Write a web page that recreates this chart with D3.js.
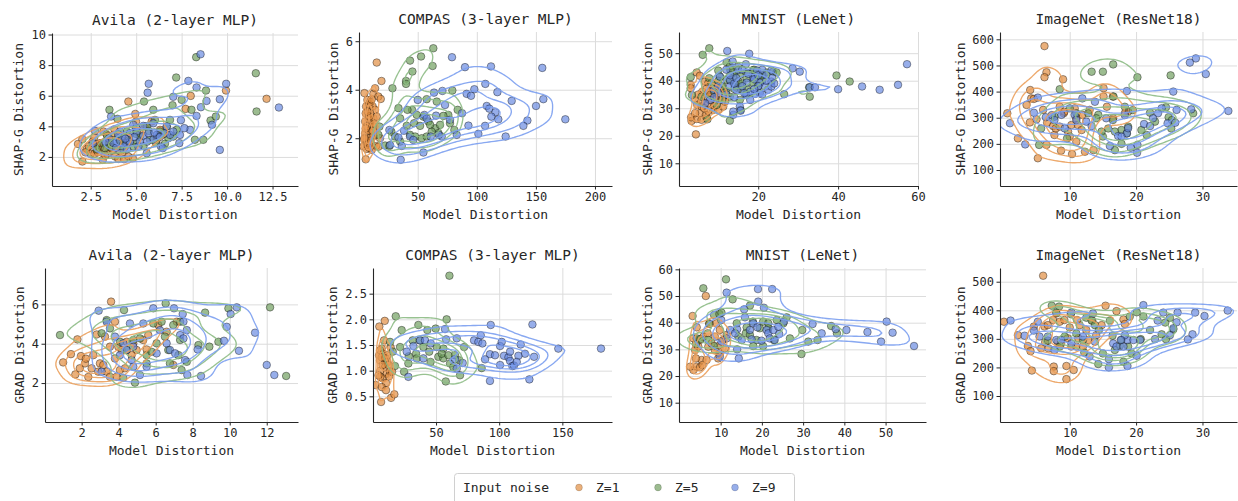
<!DOCTYPE html>
<html><head><meta charset="utf-8">
<script src="https://cdn.jsdelivr.net/npm/d3@7"></script>
<style>
body{margin:0;background:#fff}
svg{display:block}
text{font-family:"DejaVu Sans Mono",monospace;fill:#262626}
</style>
</head><body>
<svg id="chart" width="1238" height="501"></svg>
<script>
// ---------------- DATA ----------------
const seriesLabels = ["Z=1", "Z=5", "Z=9"];
const legendTitle = "Input noise";
const xAxisLabel = "Model Distortion";

// Avila (2-layer MLP), SHAP-G
const avilaShapZ1 = [[1.8,2.85],[2.04,3.16],[2.04,1.7],[2.28,2.53],[2.5,2.2],[2.7,2.2],[2.88,2.83],[3.16,1.81],[3.25,2.53],[3.42,2.2],[3.56,3.12],[3.71,2.42],[3.84,2.03],[3.97,2.68],[4.02,1.87],[4.24,2.18],[4.33,1.85],[4.57,2.03],[4.81,1.92],[3.2,3.66],[3.38,3.46],[4.57,5.62],[3.75,3.44],[4.95,4.81],[4.99,4.31],[5.21,3.55],[5.85,4.31],[6.13,3.12],[6.31,3.77],[6.4,3.44],[7.72,5.14],[8.0,5.99],[9.94,6.34],[12.17,5.8],[3.01,2.9],[2.83,2.46],[2.6,3.0],[3.0,2.6],[3.5,2.9],[4.2,3.1],[4.6,3.3],[3.8,3.8],[5.5,4.0],[2.2,2.3],[3.3,2.1],[2.4,2.7],[2.9,2.3],[3.1,2.9],[3.6,2.6],[4.1,2.4],[4.4,2.7],[2.7,3.3],[3.9,3.0]];
const avilaShapZ5 = [[8.3,8.52],[11.58,7.47],[7.2,7.19],[11.62,4.97],[5.43,5.62],[5.94,5.08],[7.5,5.73],[7.0,5.38],[8.04,5.08],[8.84,6.34],[9.09,4.38],[9.38,4.64],[8.69,3.12],[3.53,5.08],[3.97,4.49],[2.83,2.51],[3.56,2.68],[3.84,2.9],[4.29,2.79],[4.48,3.66],[5.03,2.9],[5.21,3.33],[5.58,3.99],[5.76,3.12],[6.31,3.66],[6.68,3.99],[6.77,3.22],[7.23,3.77],[7.04,3.33],[6.09,2.9],[6.58,2.86],[3.2,2.9],[3.29,2.57],[4.84,2.68],[6.03,4.42],[6.86,4.42],[4.02,3.33],[8.23,3.12],[3.7,3.1],[4.1,3.0],[4.6,3.1],[5.0,3.5],[5.4,2.7],[6.2,3.3],[6.5,3.5],[3.4,3.4],[4.3,2.5],[5.7,3.7]];
const avilaShapZ9 = [[8.54,8.71],[5.69,6.78],[5.63,6.2],[7.87,6.97],[7.04,5.93],[8.32,6.54],[9.95,6.78],[8.87,5.66],[9.6,5.77],[8.56,5.25],[12.85,5.23],[8.32,4.68],[7.46,4.4],[9.17,4.1],[7.96,3.77],[9.6,2.46],[3.62,4.64],[2.74,3.7],[2.61,2.9],[4.11,3.66],[4.66,3.55],[5.03,3.66],[5.39,3.38],[5.67,3.55],[5.94,3.12],[6.13,3.44],[6.36,2.68],[6.58,3.55],[6.86,3.44],[7.04,3.66],[7.41,3.44],[7.65,3.88],[5.58,2.24],[5.12,2.68],[4.48,2.9],[3.93,3.0],[4.29,2.68],[6.46,2.57],[6.68,3.99],[5.94,4.2],[4.84,4.1],[4.2,3.33],[3.75,2.9],[5.39,4.03],[7.37,2.9],[4.66,3.0],[3.5,3.2],[4.0,3.5],[4.4,3.2],[4.9,3.3],[5.2,3.0],[5.6,3.0],[6.0,3.6],[6.3,3.3],[4.5,2.5],[5.0,3.9],[3.3,3.0],[3.9,2.6]];

// COMPAS (3-layer MLP), SHAP-G
const compasShapZ1 = [[15.3,5.12],[19.3,4.36],[4.9,3.86],[12.5,3.83],[16.7,3.72],[18.7,3.62],[6.3,3.31],[5.98,3.03],[8.3,2.82],[10.5,2.69],[12.5,2.82],[9.2,2.48],[11.1,2.27],[5.5,2.2],[13.9,2.14],[8.3,2.0],[6.3,1.86],[10.2,1.79],[4.0,1.66],[6.9,1.56],[11.1,1.52],[6.0,1.13],[14.8,1.68],[9.1,3.38],[11.9,3.31],[7.4,3.58],[13.9,3.17],[9.7,3.03],[8.6,2.31],[13.1,2.48],[4.6,1.96],[15.3,2.89],[11.9,2.07],[7.4,1.72],[13.9,4.06],[5.5,2.69],[16.7,1.65],[18.1,2.0],[7,2.5],[9,2.9],[10,3.5],[6,2.4],[8,1.8],[12,2.3],[10,1.9],[7.5,3.1],[5,2.0],[13,2.6],[9,1.6],[11,3.6]];
const compasShapZ5 = [[63.2,5.71],[52.8,5.37],[43.5,5.2],[62.6,4.98],[45.5,4.75],[40.1,4.36],[40.1,4.24],[28.6,4.06],[79.3,3.97],[57.6,3.61],[66.1,3.51],[45.2,3.17],[41.3,3.17],[33.7,3.24],[83.8,3.17],[75.9,2.96],[71.7,2.92],[77.3,2.62],[81.0,2.34],[35.1,2.82],[40.7,2.51],[49.2,2.96],[54.8,2.89],[59.0,2.69],[64.7,2.41],[67.5,2.21],[43.5,2.14],[47.8,2.07],[53.4,2.0],[57.6,2.07],[35.1,1.86],[22.4,1.7],[26.0,1.68],[16.7,2.14],[17.6,2.48],[46.9,2.62],[52.0,2.51],[60.5,2.55],[68.9,2.55],[27.7,2.27],[30.8,2.07],[61.8,2.27]];
const compasShapZ9 = [[79.0,5.34],[90.0,4.93],[112.0,4.96],[155.4,4.9],[107.2,4.24],[97.9,4.02],[70.9,3.95],[91.4,3.83],[95.1,3.75],[117.4,3.9],[50.0,3.58],[129.5,3.54],[156.3,3.61],[150.1,3.33],[174.9,2.78],[142.8,2.73],[139.4,2.51],[124.4,2.07],[101.3,2.18],[92.9,2.52],[107.0,2.51],[108.4,3.33],[110.6,3.22],[115.7,3.07],[112.3,2.89],[118.2,2.78],[87.5,3.03],[83.0,2.14],[63.8,3.88],[73.1,3.37],[55.6,2.96],[57.6,2.82],[26.6,1.72],[35.6,1.11],[54.8,1.41],[36.5,1.68],[33.7,2.03],[26.0,2.34],[38.4,2.31],[43.5,2.07],[70.3,2.07],[65.5,2.93],[67.8,2.14],[61.0,2.07],[46.3,1.93],[77.3,2.76]];

// MNIST (LeNet), SHAP-G
const mnistShapZ1 = [[4.4,20.5],[3.3,25.4],[3.2,26.7],[4.6,26.1],[5.8,25.8],[7.1,26.4],[3.1,38.5],[3.1,37.3],[4.6,43.0],[5.4,41.8],[6.7,39.7],[7.5,39.1],[4.2,33.0],[4.75,31.2],[5.8,30.6],[7.5,31.8],[8.75,29.4],[10.0,29.4],[11.25,30.6],[7.9,34.2],[9.6,36.1],[10.4,37.3],[9.2,33.0],[6.7,34.2],[5.4,28.2],[6.9,27.6],[8.3,36.7],[10.4,33.0],[11.7,32.4],[5.8,32.4],[4.2,28.2],[11.7,35.5],[6,36],[7,37],[8,35],[9,31],[5,35],[6.5,30],[8,33],[10,35],[7.5,29],[9,38]];
const mnistShapZ5 = [[6.1,49.4],[7.75,51.8],[3.1,41.3],[3.4,34.8],[39.6,41.9],[42.9,39.7],[26.5,35.1],[32.9,34.2],[32.75,37.6],[12.1,46.7],[12.9,45.2],[10.0,43.7],[10.4,41.5],[7.75,40.9],[12.1,40.3],[13.75,41.5],[15.4,42.1],[17.1,40.9],[18.75,43.9],[20.25,41.8],[22.1,43.0],[23.75,43.3],[24.6,43.0],[14.2,37.9],[15.8,36.7],[17.25,36.9],[12.9,34.2],[15.6,29.4],[12.9,25.5],[7.3,26.0],[9.6,31.2],[8.3,39.1],[10.8,37.9],[15.0,39.7],[18.75,39.1],[15.4,33.0],[5.8,34.2],[9,36],[11,38],[13,40],[14,43],[16,39],[19,42],[21,40],[11,33],[13,44],[15,45],[17,43],[19,44],[21,42],[20,38],[17,35],[12,36],[10,40],[14,37]];
const mnistShapZ9 = [[12.25,50.8],[17.75,49.8],[13.6,47.0],[28.6,44.5],[30.4,43.3],[32.9,37.6],[34.2,37.6],[40.0,36.9],[46.0,37.9],[50.4,36.7],[55.0,38.5],[57.25,46.0],[16.9,46.0],[19.75,43.7],[23.3,43.7],[23.3,39.7],[21.7,37.9],[22.5,36.7],[20.4,35.5],[19.2,35.2],[18.75,41.3],[17.1,39.3],[15.0,43.9],[12.9,40.3],[12.9,37.9],[15.4,30.6],[15.6,29.1],[13.75,27.6],[13.75,28.8],[10.4,41.5],[8.9,36.7],[10.0,35.5],[7.9,33.0],[6.7,31.8],[14.6,36.7],[17.1,34.8],[20.4,39.3],[23.3,37.9],[10,38],[12,35],[14,39],[16,38],[18,36],[20,38],[22,40],[9,34],[13,42],[14.5,41],[16,44],[17.5,42.5],[19,40.5],[20,42],[21,44],[22,42],[23.5,41],[24,39],[19,37],[16.5,35.5],[18,33],[21,35],[14,34],[12,44]];

// ImageNet (ResNet18), SHAP-G
const imagenetShapZ1 = [[6.2,574],[6.5,474],[6.2,455],[9.0,447],[0.6,317],[4.05,406],[4.2,374],[4.6,372],[3.5,349],[4.0,282],[5.0,294],[6.0,330],[6.6,281],[7.5,268],[7.7,234],[7.9,259],[8.5,342],[9.1,317],[9.75,247],[10.0,228],[11.0,208],[8.7,174],[10.35,161],[12.3,170],[13.6,176],[5.2,145],[6.5,196],[2.2,221],[15.1,413],[15.1,381],[15.6,342],[13.0,330],[11.9,311],[11.0,298],[10.25,272],[11.25,272],[11.8,253],[16.5,381],[18.8,323],[16.55,298],[18.3,317],[9.2,323],[8.5,266],[10.75,336]];
const imagenetShapZ5 = [[16.55,504],[15.0,476],[13.3,476],[20.2,455],[25.2,462],[8.5,409],[16.6,381],[10.0,336],[11.0,317],[7.7,304],[5.7,259],[5.4,196],[9.6,221],[12.8,317],[14.3,311],[16.5,291],[18.3,342],[19.5,329],[18.8,266],[17.8,253],[16.8,247],[16.8,176],[17.8,200],[15.0,228],[14.8,247],[14.0,298],[20.8,253],[21.6,234],[22.85,285],[24.9,302],[24.5,340],[25.3,259],[28.6,317],[25.4,291],[22.1,319],[18.6,240],[15.8,259]];
const imagenetShapZ9 = [[29.0,527],[28.1,511],[30.5,467],[33.9,326],[1.0,279],[3.3,198],[5.2,377],[4.6,319],[6.4,302],[7.3,310],[11.9,374],[13.8,361],[18.6,402],[25.6,400],[26.1,330],[28.3,332],[23.85,336],[23.3,317],[22.55,298],[21.2,276],[22.1,268],[20.2,196],[19.2,185],[20.15,166],[17.3,230],[16.05,192],[18.3,310],[18.6,240],[17.8,228],[18.8,260],[12.5,285],[13.3,268],[10.75,311],[11.0,291],[8.75,311],[7.7,291],[9.25,259],[24.75,279],[25.9,281],[15.5,298]];

// Avila (2-layer MLP), GRAD
const avilaGradZ1 = [[3.59,6.14],[1.77,4.22],[1.42,3.47],[1.0,3.05],[1.66,2.44],[1.9,2.75],[2.18,3.0],[2.36,2.31],[2.54,2.75],[1.96,3.37],[2.23,3.24],[2.63,3.42],[2.81,4.47],[2.99,3.0],[3.17,2.92],[3.35,2.58],[3.53,2.32],[3.89,2.32],[4.07,2.66],[4.34,2.75],[3.53,3.85],[3.8,3.25],[3.98,3.85],[4.43,4.1],[4.79,4.02],[4.97,3.68],[5.33,4.19],[5.6,4.44],[6.14,4.95],[6.59,4.61],[7.14,5.12],[6.95,2.92],[3.8,5.12],[2.9,2.58],[3.26,4.36],[4.16,3.68],[4.7,3.42],[5.51,3.71]];
const avilaGradZ5 = [[0.83,4.44],[4.29,5.71],[6.54,6.05],[9.93,5.8],[12.18,5.85],[13.05,2.36],[4.88,2.02],[4.25,2.27],[3.35,5.2],[3.53,4.78],[3.08,4.53],[8.67,5.58],[8.9,3.85],[9.39,4.1],[8.31,3.93],[7.4,2.66],[5.87,5.03],[6.32,5.12],[6.95,4.95],[7.32,5.12],[6.5,4.36],[6.05,4.02],[6.68,3.68],[5.51,3.42],[5.78,3.59],[6.77,3.0],[7.32,4.19],[5.15,4.27],[4.79,4.19],[4.07,4.1],[4.43,3.68],[7.23,3.42],[5.51,3.0],[7.68,3.08]];
const avilaGradZ9 = [[2.92,5.68],[5.87,5.8],[6.99,5.8],[10.38,5.85],[10.05,5.51],[9.84,4.86],[9.69,4.15],[11.37,4.56],[10.5,3.64],[12.0,2.92],[12.41,2.41],[7.71,2.41],[8.45,2.36],[8.27,3.71],[7.68,4.69],[7.5,5.12],[7.46,5.51],[5.33,5.03],[4.61,5.03],[3.35,5.12],[3.8,4.36],[4.25,4.02],[4.43,3.68],[4.07,3.42],[4.79,3.85],[4.7,3.17],[5.15,2.41],[5.51,2.83],[6.05,3.51],[6.59,4.02],[6.77,3.68],[7.32,4.44],[7.5,4.27],[3.08,2.58],[4.79,2.83],[6.23,4.69],[7.05,3.51],[7.59,3.17]];

// COMPAS (3-layer MLP), GRAD
const compasGradZ1 = [[9.4,1.97],[5.1,1.86],[6.5,0.39],[2.2,0.72],[14.4,0.47],[17.0,0.54],[7.0,1.43],[8.3,1.33],[4.9,1.3],[11.5,1.17],[9.6,1.07],[5.9,1.0],[11.0,0.94],[7.8,0.85],[10.4,0.76],[7.0,0.68],[14.1,1.45],[5.7,1.2],[8.8,1.59],[12.3,1.11],[5.9,0.88],[11.5,1.3],[5.7,1.4],[9.9,1.24],[13.6,0.98],[7.8,1.11],[4.4,0.91],[10.4,0.62],[7.0,1.26],[12.8,0.89],[15.2,0.98]];
const compasGradZ5 = [[60.6,2.85],[18.1,2.06],[58.4,2.0],[36.0,1.89],[49.7,1.82],[22.8,1.79],[13.6,1.56],[15.7,1.37],[17.5,1.09],[21.5,1.46],[24.7,0.98],[28.1,1.14],[31.5,1.59],[34.2,1.33],[34.7,1.24],[40.0,1.46],[44.6,1.37],[45.7,1.17],[51.8,1.27],[55.8,1.43],[55.8,1.24],[61.1,1.14],[65.0,1.3],[68.5,1.2],[69.0,0.91],[57.7,0.79],[72.2,1.46],[86.1,1.05],[43.1,1.79],[28.4,1.28],[37.3,1.59],[50.5,1.46],[54.5,1.33],[59.8,1.3],[63.7,1.07]];
const compasGradZ9 = [[57.1,1.81],[93.3,1.89],[126.3,1.9],[146.8,1.43],[180.6,1.43],[123.9,0.83],[92.7,0.8],[28.1,0.88],[58.0,1.61],[66.4,1.63],[80.1,1.59],[83.5,1.56],[85.4,1.69],[86.7,1.53],[100.7,1.48],[102.0,1.56],[117.0,1.51],[120.4,1.33],[127.6,1.27],[115.2,1.29],[92.7,1.32],[96.7,1.3],[100.7,1.11],[103.8,1.29],[107.3,1.26],[108.6,1.19],[110.4,1.09],[111.7,1.1],[113.9,1.17],[37.3,1.59],[41.3,1.59],[45.8,1.53],[26.8,1.37],[32.1,1.48],[40.0,1.24],[65.0,1.22],[71.1,1.15],[66.4,1.04],[88.8,1.22],[108.6,1.37]];

// MNIST (LeNet), GRAD
const mnistGradZ1 = [[3.2,42.5],[6.4,50.0],[4.2,38.25],[3.4,22.25],[4.2,23.5],[5.0,23.25],[5.4,26.0],[6.6,26.0],[3.8,29.75],[3.4,34.1],[5.0,33.5],[5.8,34.75],[6.85,36.0],[7.25,39.75],[9.0,39.75],[7.0,31.0],[8.6,29.75],[9.4,26.6],[9.8,28.5],[10.6,33.5],[11.45,35.4],[9.8,37.25],[8.6,34.75],[7.8,32.25],[4.6,31.0],[5.6,24.1],[4.0,26.6],[2.6,23.5],[9.8,31.6],[11.05,30.4]];
const mnistGradZ5 = [[5.8,52.9],[11.3,56.25],[12.9,48.75],[17.1,46.4],[7.25,39.5],[8.4,42.9],[9.7,43.25],[10.2,43.75],[8.4,31.25],[7.0,33.5],[4.2,34.1],[4.0,32.0],[5.15,33.9],[13.9,39.75],[16.3,38.25],[16.1,36.0],[17.8,40.4],[20.3,40.4],[21.55,39.75],[23.6,41.0],[26.0,42.0],[25.2,39.75],[21.55,37.9],[19.5,37.9],[18.7,33.5],[17.9,31.25],[20.3,31.25],[22.9,33.5],[26.8,34.1],[29.8,37.25],[29.6,28.25],[31.25,32.9],[33.5,33.5],[36.8,38.75],[38.2,36.0],[14.3,34.75],[17.1,35.4]];
const mnistGradZ9 = [[11.45,51.25],[19.05,52.6],[22.5,52.6],[19.1,47.9],[20.5,45.6],[15.7,45.0],[10.15,41.0],[14.4,26.6],[14.0,30.0],[9.8,27.25],[32.3,39.5],[34.5,36.0],[37.9,37.6],[40.5,37.25],[45.6,36.5],[48.9,32.9],[50.25,40.4],[51.7,36.25],[56.9,31.25],[14.0,37.5],[15.9,42.0],[17.1,37.25],[17.9,39.75],[18.9,38.25],[21.15,37.25],[21.55,36.0],[22.8,37.25],[24.2,35.75],[24.0,38.5],[25.35,40.4],[19.9,33.25],[21.9,34.1],[23.1,33.5],[17.5,33.75],[15.1,33.5],[12.3,37.25],[11.45,34.1],[10.2,32.9],[13.5,36.0]];

// ImageNet (ResNet18), GRAD
const imagenetGradZ1 = [[6.0,521],[0.1,360],[2.2,313],[3.7,275],[4.1,257],[4.3,189],[4.6,343],[6.2,343],[6.7,348],[7.5,366],[8.0,389],[8.5,360],[9.2,366],[7.6,203],[7.6,187],[9.5,205],[9.5,159],[10.6,191],[6.8,267],[8.2,290],[8.7,284],[9.7,302],[10.25,273],[11.0,273],[11.3,302],[12.0,273],[12.8,296],[12.5,331],[11.5,348],[11.1,366],[13.4,364],[15.4,416],[17.05,397],[18.1,368],[18.3,352],[14.8,348],[14.0,313],[6.3,288],[5.7,267],[10.0,340]];
const imagenetGradZ5 = [[7.3,416],[8.4,413],[7.98,392],[10.15,387],[12.5,374],[13.3,364],[13.8,348],[14.4,331],[16.05,364],[16.45,311],[17.55,276],[18.8,273],[19.05,378],[20.1,393],[21.1,378],[22.1,331],[23.85,316],[24.4,357],[25.1,374],[25.6,333],[24.5,299],[20.7,299],[19.3,249],[18.1,220],[15.0,249],[14.3,212],[12.2,252],[11.0,319],[9.25,308],[6.7,294],[8.5,273],[16.8,261],[17.8,296],[12.0,296]];
const imagenetGradZ9 = [[33.8,399],[30.3,380],[28.9,392],[28.5,316],[27.8,298],[26.1,358],[26.25,392],[24.1,392],[23.25,364],[22.85,299],[21.1,418],[20.1,241],[18.7,205],[15.9,200],[15.9,229],[1.1,364],[3.2,311],[5.2,360],[4.6,329],[5.45,308],[6.7,308],[7.7,261],[7.98,296],[10.25,392],[12.0,308],[13.5,389],[13.8,290],[13.0,238],[16.55,284],[17.05,273],[18.1,273],[18.7,296],[19.6,296],[20.6,296],[18.3,313],[25.1,313],[25.6,337],[17.7,296],[10.25,284],[8.7,296]];

// Tick values
const avilaShapXTicks = [2.5, 5, 7.5, 10, 12.5];
const avilaShapYTicks = [2, 4, 6, 8, 10];
const compasShapXTicks = [50, 100, 150, 200];
const compasShapYTicks = [2, 4, 6];
const mnistShapXTicks = [20, 40, 60];
const mnistShapYTicks = [10, 20, 30, 40, 50];
const imagenetShapXTicks = [10, 20, 30];
const imagenetShapYTicks = [100, 200, 300, 400, 500, 600];
const avilaGradXTicks = [2, 4, 6, 8, 10, 12];
const avilaGradYTicks = [2, 4, 6];
const compasGradXTicks = [50, 100, 150];
const compasGradYTicks = [0.5, 1.0, 1.5, 2.0, 2.5];
const mnistGradXTicks = [10, 20, 30, 40, 50];
const mnistGradYTicks = [10, 20, 30, 40, 50, 60];
const imagenetGradXTicks = [10, 20, 30];
const imagenetGradYTicks = [100, 200, 300, 400, 500];

// ---------------- LAYOUT / STYLE ----------------
const W = 1238, H = 501;
const pointFill = ["#e08a3c", "#6d9c5c", "#6688e0"];
const lineColor = ["#eba05c", "#8dbb85", "#7b9ff0"];

const panels = [
  {title:"Avila (2-layer MLP)", ylabel:"SHAP-G Distortion", data:[avilaShapZ1,avilaShapZ5,avilaShapZ9],
   xdom:[0.37,13.9], ydom:[0.1,10.1], xt:avilaShapXTicks, yt:avilaShapYTicks, xf:".1f", yf:"d", box:[52,298,33,186], ylx:18},
  {title:"COMPAS (3-layer MLP)", ylabel:"SHAP-G Distortion", data:[compasShapZ1,compasShapZ5,compasShapZ9],
   xdom:[0.3,214.4], ydom:[0.03,6.38], xt:compasShapXTicks, yt:compasShapYTicks, xf:"d", yf:"d", box:[359,612,32,186], ylx:333},
  {title:"MNIST (LeNet)", ylabel:"SHAP-G Distortion", data:[mnistShapZ1,mnistShapZ5,mnistShapZ9],
   xdom:[0.17,60], ydom:[1.75,57.7], xt:mnistShapXTicks, yt:mnistShapYTicks, xf:"d", yf:"d", box:[679,918,32,186], ylx:647},
  {title:"ImageNet (ResNet18)", ylabel:"SHAP-G Distortion", data:[imagenetShapZ1,imagenetShapZ5,imagenetShapZ9],
   xdom:[-0.5,35.2], ydom:[38.8,628], xt:imagenetShapXTicks, yt:imagenetShapYTicks, xf:"d", yf:"d", box:[1000,1237,32,186], ylx:960},
  {title:"Avila (2-layer MLP)", ylabel:"GRAD Distortion", data:[avilaGradZ1,avilaGradZ5,avilaGradZ9],
   xdom:[0.02,13.69], ydom:[0.02,7.85], xt:avilaGradXTicks, yt:avilaGradYTicks, xf:"d", yf:"d", box:[45,298,268,422], ylx:19},
  {title:"COMPAS (3-layer MLP)", ylabel:"GRAD Distortion", data:[compasGradZ1,compasGradZ5,compasGradZ9],
   xdom:[0.1,189.3], ydom:[0,3.0], xt:compasGradXTicks, yt:compasGradYTicks, xf:"d", yf:".1f", box:[373,612,268,422], ylx:332},
  {title:"MNIST (LeNet)", ylabel:"GRAD Distortion", data:[mnistGradZ1,mnistGradZ5,mnistGradZ9],
   xdom:[-0.1,59.8], ydom:[2.76,60.5], xt:mnistGradXTicks, yt:mnistGradYTicks, xf:"d", yf:"d", box:[679,926,268,422], ylx:647},
  {title:"ImageNet (ResNet18)", ylabel:"GRAD Distortion", data:[imagenetGradZ1,imagenetGradZ5,imagenetGradZ9],
   xdom:[-0.5,35.2], ydom:[9,548], xt:imagenetGradXTicks, yt:imagenetGradYTicks, xf:"d", yf:"d", box:[1000,1237,268,422], ylx:960}
];

const svg = d3.select("#chart");
svg.append("rect").attr("width", W).attr("height", H).attr("fill", "#fff");

const QS = [0.22, 0.42, 0.62, 0.82];
const BW_ADJUST = 0.9;

function kdeContours(pts, xs, ys, gx0, gy0, nx, ny, step) {
  const n = pts.length;
  const mx = d3.mean(pts, d => d[0]), my = d3.mean(pts, d => d[1]);
  let sxx = 0, syy = 0, sxy = 0;
  pts.forEach(([x, y]) => { sxx += (x-mx)*(x-mx); syy += (y-my)*(y-my); sxy += (x-mx)*(y-my); });
  sxx /= (n-1); syy /= (n-1); sxy /= (n-1);
  const f2 = Math.pow(n, -1/3) * BW_ADJUST * BW_ADJUST;
  const a = sxx*f2, b = sxy*f2, c = syy*f2;
  const det = a*c - b*b;
  const ia = c/det, ib = -b/det, ic = a/det;
  const vals = new Float64Array(nx*ny);
  for (let j = 0; j < ny; j++) {
    const Y = ys.invert(gy0 + j*step);
    for (let i = 0; i < nx; i++) {
      const X = xs.invert(gx0 + i*step);
      let s = 0;
      for (let k = 0; k < n; k++) {
        const dx = X - pts[k][0], dy = Y - pts[k][1];
        s += Math.exp(-0.5*(ia*dx*dx + 2*ib*dx*dy + ic*dy*dy));
      }
      vals[j*nx + i] = s;
    }
  }
  const sorted = Array.from(vals).sort((p, q) => p - q);
  const total = d3.sum(sorted);
  const levels = [];
  let cum = 0, qi = 0;
  for (let k = 0; k < sorted.length && qi < QS.length; k++) {
    cum += sorted[k];
    while (qi < QS.length && cum/total >= QS[qi]) { levels.push(sorted[k]); qi++; }
  }
  return d3.contours().size([nx, ny]).thresholds(levels)(vals);
}

panels.forEach((p, pi) => {
  const [L, R, T, B] = p.box;
  const xs = d3.scaleLinear().domain(p.xdom).range([L, R]);
  const ys = d3.scaleLinear().domain(p.ydom).range([B, T]);
  const g = svg.append("g");

  const clipId = "clip" + pi;
  svg.append("clipPath").attr("id", clipId).append("rect")
    .attr("x", L).attr("y", T).attr("width", R - L).attr("height", B - T);

  // grid
  g.append("g").attr("transform", `translate(0,${B})`)
    .call(d3.axisBottom(xs).tickValues(p.xt).tickSize(-(B - T)).tickFormat(""))
    .call(s => { s.select(".domain").remove(); s.selectAll("line").attr("stroke", "#dcdcdc").attr("stroke-width", 1); });
  g.append("g").attr("transform", `translate(${L},0)`)
    .call(d3.axisLeft(ys).tickValues(p.yt).tickSize(-(R - L)).tickFormat(""))
    .call(s => { s.select(".domain").remove(); s.selectAll("line").attr("stroke", "#dcdcdc").attr("stroke-width", 1); });

  // points
  const pg = g.append("g").attr("clip-path", `url(#${clipId})`);
  p.data.forEach((ser, si) => {
    pg.append("g").selectAll("circle").data(ser).join("circle")
      .attr("cx", d => xs(d[0])).attr("cy", d => ys(d[1])).attr("r", 3.8)
      .attr("fill", pointFill[si]).attr("fill-opacity", 0.68)
      .attr("stroke", "#000").attr("stroke-opacity", 0.55).attr("stroke-width", 0.7);
  });

  // KDE contours
  const step = 2.5, pad = 40;
  const gx0 = L - pad, gy0 = T - pad;
  const nx = Math.ceil((R - L + 2*pad)/step) + 1, ny = Math.ceil((B - T + 2*pad)/step) + 1;
  const proj = d3.geoTransform({ point(x, y) { this.stream.point(gx0 + (x - 0.5)*step, gy0 + (y - 0.5)*step); } });
  const path = d3.geoPath(proj);
  const cg = g.append("g").attr("clip-path", `url(#${clipId})`);
  p.data.forEach((ser, si) => {
    const cs = kdeContours(ser, xs, ys, gx0, gy0, nx, ny, step);
    cg.append("g").selectAll("path").data(cs).join("path")
      .attr("d", path).attr("fill", "none")
      .attr("stroke", lineColor[si]).attr("stroke-width", 1.35).attr("stroke-opacity", 0.9)
      .attr("stroke-linejoin", "round");
  });

  // axes
  const xa = g.append("g").attr("transform", `translate(0,${B})`)
    .call(d3.axisBottom(xs).tickValues(p.xt).tickFormat(d3.format(p.xf)).tickSize(3.5).tickSizeOuter(0).tickPadding(2.5));
  const ya = g.append("g").attr("transform", `translate(${L},0)`)
    .call(d3.axisLeft(ys).tickValues(p.yt).tickFormat(d3.format(p.yf)).tickSize(3.5).tickSizeOuter(0).tickPadding(2.5));
  [xa, ya].forEach(a => {
    a.select(".domain").attr("stroke", "#262626").attr("stroke-width", 1.1);
    a.selectAll(".tick line").attr("stroke", "#262626").attr("stroke-width", 1);
    a.selectAll("text").attr("font-family", "DejaVu Sans Mono").attr("font-size", 12).attr("fill", "#262626");
  });

  // titles / labels
  g.append("text").attr("x", (L + R)/2).attr("y", T - 8).attr("text-anchor", "middle")
    .attr("font-size", 14.5).text(p.title);
  g.append("text").attr("x", (L + R)/2).attr("y", B + 33).attr("text-anchor", "middle")
    .attr("font-size", 13).text(xAxisLabel);
  g.append("text").attr("transform", `translate(${p.ylx + 4.5},${(T + B)/2}) rotate(-90)`)
    .attr("text-anchor", "middle").attr("font-size", 13).text(p.ylabel);
});

// legend
const lg = svg.append("g");
lg.append("rect").attr("x", 454.5).attr("y", 473.5).attr("width", 340).attr("height", 40).attr("rx", 3)
  .attr("fill", "#fff").attr("stroke", "#d0d0d0");
lg.append("text").attr("x", 463).attr("y", 492).attr("font-size", 13).text(legendTitle);
const legX = [579, 658, 735];
seriesLabels.forEach((lab, i) => {
  lg.append("circle").attr("cx", legX[i]).attr("cy", 487.5).attr("r", 3.4)
    .attr("fill", pointFill[i]).attr("fill-opacity", 0.68).attr("stroke", "#000").attr("stroke-opacity", 0.3).attr("stroke-width", 0.5);
  lg.append("text").attr("x", legX[i] + 17).attr("y", 492).attr("font-size", 13).text(lab);
});
</script>
</body></html>
